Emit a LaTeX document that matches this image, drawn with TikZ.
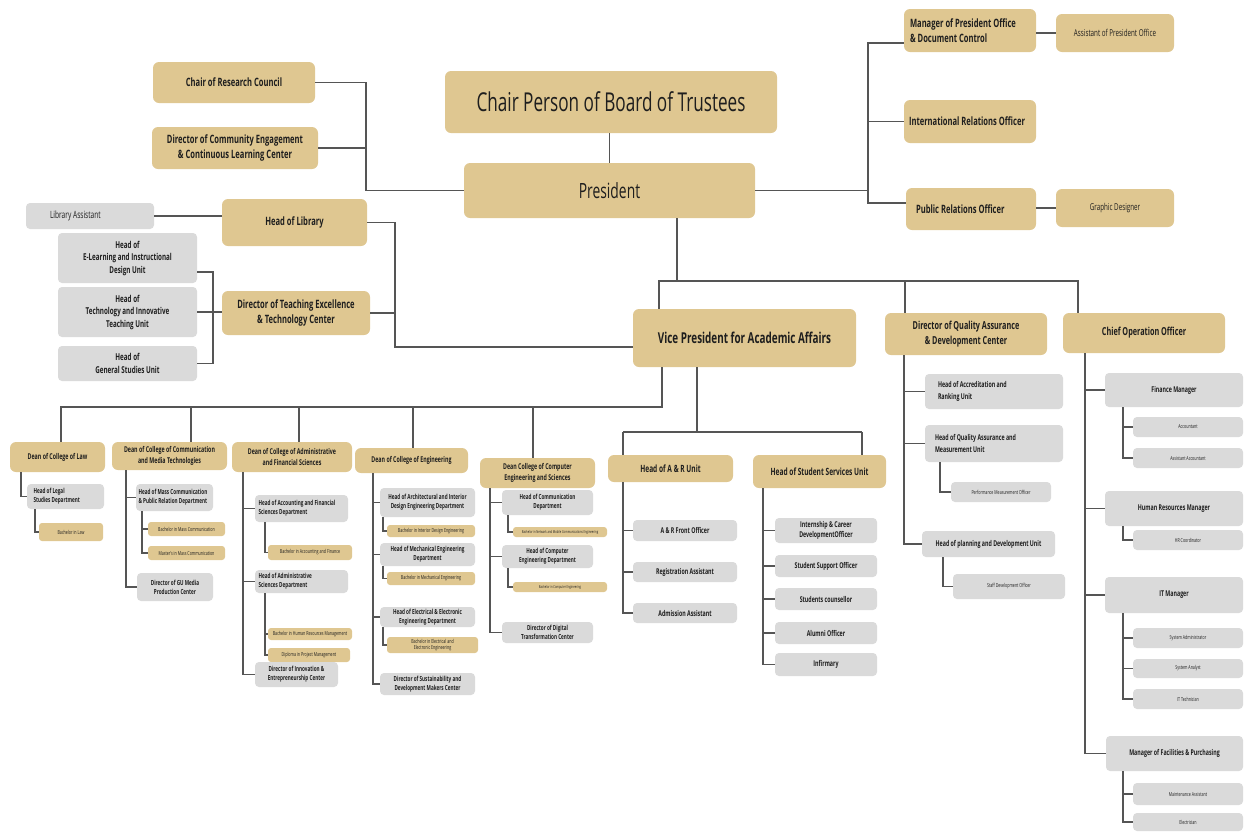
\documentclass[tikz,border=0pt]{standalone}
\usepackage{fontspec}
\setmainfont{Open Sans}[FakeStretch=0.66]
\usetikzlibrary{calc}
\definecolor{tanc}{RGB}{223,199,145}
\definecolor{grayc}{RGB}{218,218,218}
\definecolor{linec}{RGB}{85,85,85}
\definecolor{txtc}{RGB}{30,30,30}
\newcommand\fChair{\fontsize{26}{30}\selectfont}
\newcommand\fPres{\fontsize{21}{24}\selectfont}
\newcommand\fVP{\bfseries\fontsize{15}{18}\selectfont}
\newcommand\fB{\bfseries\fontsize{11.5}{15}\selectfont}
\newcommand\fBs{\fontsize{9.5}{12}\selectfont}
\newcommand\fLA{\fontsize{10}{12}\selectfont}
\newcommand\fLG{\bfseries\fontsize{9.5}{12.5}\selectfont}
\newcommand\fD{\bfseries\fontsize{8}{11}\selectfont}
\newcommand\fG{\bfseries\fontsize{7}{9}\selectfont}
\newcommand\fS{\fontsize{5.5}{6.5}\selectfont}
\newcommand\fT{\fontsize{4}{5}\selectfont}
\newcommand\fE{\bfseries\fontsize{10}{12}\selectfont}
\newcommand\fF{\bfseries\fontsize{8}{10}\selectfont}
\newcommand\fH{\bfseries\fontsize{8}{12}\selectfont}
\newcommand\fQ{\bfseries\fontsize{11}{14.5}\selectfont}
\newcommand{\obox}[7]{\node[#2, minimum width={#5-#3}, minimum height={#6-#4}] (#1) at ({(#3+#5)/2},{(#4+#6)/2}) {#7};}
\newcommand{\okid}[3]{\draw[ln] (#1.south -| #2) |- (#3.west);}
\tikzset{
  tan/.style={fill=tanc, rounded corners=6pt, inner sep=1pt, align=center, text=txtc},
  tans/.style={fill=tanc, rounded corners=3pt, inner sep=1pt, align=center, text=txtc, font=\fS},
  gry/.style={fill=grayc, rounded corners=4pt, inner sep=1pt, align=center, text=txtc},
  tanB/.style={tan, font=\fB},
  dean/.style={tan, font=\fD},
  lvl2/.style={gry, font=\fG},
  unitg/.style={gry, font=\fF},
  qag/.style={gry, font=\fH},
  smallg/.style={gry, font=\fS},
  ln/.style={draw=linec, line width=1.6pt},
  lft/.style={text width=#1, align=flush left},
}
\begin{document}
\begin{tikzpicture}[x=1pt,y=-1pt]
\useasboundingbox (0,0) rectangle (1244,831);
% ---------- top ----------
\obox{chair}{tan, font=\fChair}{445}{71}{777}{133}{Chair Person of Board of Trustees}
\obox{pres}{tan, font=\fPres}{464}{163}{755}{218}{President}
\obox{rc}{tanB}{153}{62}{315}{103}{Chair of Research Council}
\obox{dce}{tanB}{152}{127}{318}{169}{Director of Community Engagement\\\& Continuous Learning Center}
\obox{mpo}{tanB, lft=120}{904}{9}{1036}{52}{Manager of President Office\\\& Document Control}
\obox{apo}{tan, font=\fBs}{1056}{14}{1174}{52}{Assistant of President Office}
\obox{iro}{tanB, lft=122}{904}{100}{1036}{143}{International Relations Officer}
\obox{pro}{tanB, lft=110}{906}{188}{1036}{230}{Public Relations Officer}
\obox{gd}{tan, font=\fBs}{1056}{189}{1174}{227}{Graphic Designer}
% ---------- left ----------
\obox{la}{gry, font=\fLA, lft=80}{26}{203}{154}{229}{Library Assistant}
\obox{lib}{tanB}{222}{199}{367}{246}{Head of Library}
\obox{dte}{tanB}{222}{291}{370}{335}{Director of Teaching Excellence\\\& Technology Center}
\obox{el}{gry, font=\fLG}{58}{233}{197}{283}{Head of\\E-Learning and Instructional\\Design Unit}
\obox{ti}{gry, font=\fLG}{58}{287}{197}{337}{Head of\\Technology and Innovative\\Teaching Unit}
\obox{gs}{gry, font=\fLG}{58}{346}{197}{381}{Head of\\General Studies Unit}
% ---------- middle ----------
\obox{vp}{tan, font=\fVP}{633}{309}{856}{367}{Vice President for Academic Affairs}
\obox{qa}{tan, font=\fQ}{885}{313}{1047}{355}{Director of Quality Assurance\\\& Development Center}
\obox{coo}{tan, font=\fQ}{1063}{313}{1225}{353}{Chief Operation Officer}
% ---------- colleges ----------
\obox{law}{dean}{10}{442}{105}{472}{Dean of College of Law}
\obox{legal}{lvl2, lft=64}{27}{484}{104}{509}{Head of Legal\\Studies Department}
\obox{bl}{tans}{39}{523}{103}{541}{Bachelor in Law}
\obox{comm}{dean}{112}{442}{227}{470}{Dean of College of Communication\\and Media Technologies}
\obox{mc}{lvl2, lft=72}{136}{484}{213}{511}{Head of Mass Communication\\\& Public Relation Department}
\obox{bmc}{tans}{148}{522}{225}{536}{Bachelor in Mass Communication}
\obox{mmc}{tans}{148}{546}{225}{560}{Master's in Mass Communication}
\obox{gum}{lvl2}{137}{573}{213}{601}{Director of GU Media\\Production Center}
\obox{adm}{dean}{232}{442}{352}{472}{Dean of College of Administrative\\and Financial Sciences}
\obox{acc}{lvl2, lft=86}{255}{495}{348}{522}{Head of Accounting and Financial\\Sciences Department}
\obox{bacc}{tans}{268}{545}{352}{560}{Bachelor in Accounting and Finance}
\obox{ads}{lvl2, lft=86}{255}{570}{348}{593}{Head of Administrative\\Sciences Department}
\obox{bhr}{tans}{268}{628}{352}{640}{Bachelor in Human Resources Management}
\obox{dpm}{tans}{268}{648}{350}{662}{Diploma in Project Management}
\obox{inn}{lvl2}{255}{662}{338}{687}{Director of Innovation \&\\Entrepreneurship Center}
\obox{eng}{dean}{355}{448}{468}{473}{Dean of College of Engineering}
\obox{arch}{lvl2}{380}{488}{475}{517}{Head of Architectural and Interior\\Design Engineering Department}
\obox{bid}{tans}{387}{525}{475}{537}{Bachelor in Interior Design Engineering}
\obox{mech}{lvl2}{380}{543}{475}{566}{Head of Mechanical Engineering\\Department}
\obox{bme}{tans}{387}{572}{475}{585}{Bachelor in Mechanical Engineering}
\obox{elec}{lvl2}{380}{607}{475}{627}{Head of Electrical \& Electronic\\Engineering Department}
\obox{bee}{tans}{387}{637}{478}{653}{Bachelor in Electrical and\\Electronic Engineering}
\obox{sus}{lvl2}{380}{673}{475}{695}{Director of Sustainability and\\Development Makers Center}
\obox{comp}{dean}{480}{458}{595}{488}{Dean College of Computer\\Engineering and Sciences}
\obox{hcd}{lvl2}{502}{490}{593}{515}{Head of Communication\\Department}
\obox{bnc}{tans, font=\fT}{513}{527}{607}{537}{Bachelor in Network and Mobile Communications Engineering}
\obox{hce}{lvl2}{502}{545}{593}{568}{Head of Computer\\Engineering Department}
\obox{bce}{tans, font=\fT}{513}{582}{607}{592}{Bachelor in Computer Engineering}
\obox{dtc}{lvl2}{502}{622}{593}{643}{Director of Digital\\Transformation Center}
% ---------- units ----------
\obox{ar}{tan, font=\fE}{608}{455}{733}{482}{Head of A \& R Unit}
\obox{arf}{unitg}{633}{520}{737}{541}{A \& R Front Officer}
\obox{ra}{unitg}{633}{562}{737}{582}{Registration Assistant}
\obox{aa}{unitg}{633}{603}{737}{623}{Admission Assistant}
\obox{ss}{tan, font=\fE}{753}{455}{886}{488}{Head of Student Services Unit}
\obox{icd}{unitg}{775}{518}{877}{543}{Internship \& Career\\DevelopmentOfficer}
\obox{sso}{unitg}{775}{555}{877}{577}{Student Support Officer}
\obox{sc}{unitg}{775}{588}{877}{610}{Students counsellor}
\obox{ao}{unitg}{775}{622}{877}{644}{Alumni Officer}
\obox{inf}{unitg}{775}{653}{877}{676}{Infirmary}
% ---------- QA ----------
\obox{acr}{qag, lft=112}{925}{374}{1063}{409}{Head of Accreditation and\\Ranking Unit}
\obox{qam}{qag, lft=118}{925}{425}{1063}{462}{Head of Quality Assurance and\\Measurement Unit}
\obox{pmo}{smallg}{951}{482}{1051}{502}{Performance Measurement Officer}
\obox{hpd}{qag}{922}{531}{1055}{557}{Head of planning and Development Unit}
\obox{sdo}{smallg}{953}{574}{1065}{599}{Staff Development Officer}
% ---------- COO ----------
\obox{fm}{qag}{1105}{373}{1243}{407}{Finance Manager}
\obox{acct}{smallg}{1133}{417}{1243}{437}{Accountant}
\obox{aac}{smallg}{1133}{448}{1243}{468}{Assistant Accountant}
\obox{hrm}{qag}{1105}{491}{1243}{526}{Human Resources Manager}
\obox{hrc}{smallg}{1133}{530}{1243}{550}{HR Coordinator}
\obox{itm}{qag}{1105}{577}{1243}{613}{IT Manager}
\obox{sa}{smallg}{1133}{628}{1243}{648}{System Administrator}
\obox{san}{smallg}{1133}{659}{1243}{678}{System Analyst}
\obox{itt}{smallg}{1133}{689}{1243}{709}{IT Technician}
\obox{mfp}{qag}{1106}{736}{1243}{771}{Manager of Facilities \& Purchasing}
\obox{ma}{smallg}{1133}{783}{1243}{805}{Maintenance Assistant}
\obox{elc}{smallg}{1133}{813}{1243}{831}{Electrician}
% ---------- coordinates ----------
\coordinate (xL) at (366,0);
\coordinate (xR) at (868,0);
\coordinate (xVL) at (395,0);
\coordinate (xT) at (213,0);
\coordinate (pd) at (677,281);
\coordinate (vx) at (659,281);
\coordinate (qx) at (905,281);
\coordinate (cx) at (1078,281);
\coordinate (v1) at (662,407);
\coordinate (v2) at (697,432);
\coordinate (dLaw) at (61,407);
\coordinate (dComm) at (191,407);
\coordinate (dAdm) at (299,407);
\coordinate (dEng) at (413,407);
\coordinate (dComp) at (533,407);
\coordinate (dAR) at (623,432);
\coordinate (dSS) at (862,432);
\coordinate (sLaw) at (21,0);
\coordinate (sLegal) at (35,0);
\coordinate (sComm) at (126,0);
\coordinate (sMc) at (142,0);
\coordinate (sAdm) at (243,0);
\coordinate (sAcc) at (265,0);
\coordinate (sEng) at (373,0);
\coordinate (sEsub) at (383,0);
\coordinate (sComp) at (490,0);
\coordinate (sCsub) at (508,0);
\coordinate (sAR) at (623,0);
\coordinate (sSS) at (763,0);
\coordinate (sQA) at (904,0);
\coordinate (sQam) at (940,0);
\coordinate (sHpd) at (943,0);
\coordinate (sCoo) at (1085,0);
\coordinate (sCsub2) at (1123,0);
% ---------- connectors top ----------
\draw[ln] (chair.south -| pres.north) -- (pres.north);
\draw[ln] (rc.east) -| (xL |- pres.west) -- (pres.west);
\draw[ln] (dce.east) -- (dce.east -| xL);
\draw[ln] (pres.east) -- (pres.east -| xR);
\draw[ln] ($(mpo.south west)+(0,-9)$) -| ($(xR |- pro.west)+(0,-6)$) -- ($(pro.west)+(0,-6)$);
\draw[ln] (iro.west) -- (iro.west -| xR);
\draw[ln] (apo.west) -- (apo.west -| mpo.east);
\draw[ln] (gd.west) -- (gd.west -| pro.east);
% ---------- connectors left ----------
\draw[ln] (la.east) -- (la.east -| lib.west);
\draw[ln] ($(vp.west)+(0,9)$) -| (xVL |- lib.east) -- (lib.east);
\draw[ln] (dte.east) -- (dte.east -| xVL);
\draw[ln] ($(el.east)+(0,14)$) -| (xT |- gs.east) -- (gs.east);
\draw[ln] (ti.east) -- (ti.east -| dte.west);
% ---------- president down ----------
\draw[ln] (pres.south -| pd) -- (pd);
\draw[ln] (vp.north -| vx) -- (vx) -- (cx) -- (coo.north -| cx);
\draw[ln] (qx) -- (qa.north -| qx);
% ---------- VP down ----------
\draw[ln] (vp.south -| v1) -- (v1) -- (dLaw) -- (law.north -| dLaw);
\draw[ln] (dComm) -- (comm.north -| dComm);
\draw[ln] (dAdm) -- (adm.north -| dAdm);
\draw[ln] (dEng) -- (eng.north -| dEng);
\draw[ln] (dComp) -- (comp.north -| dComp);
\draw[ln] (vp.south -| v2) -- (v2);
\draw[ln] (dAR) -- (dSS);
\draw[ln] (dAR) -- (ar.north -| dAR);
\draw[ln] (dSS) -- (ss.north -| dSS);
% ---------- colleges ----------
\okid{law}{sLaw}{legal}
\okid{legal}{sLegal}{bl}
\okid{comm}{sComm}{mc}
\okid{comm}{sComm}{gum}
\okid{mc}{sMc}{bmc}
\okid{mc}{sMc}{mmc}
\okid{adm}{sAdm}{acc}
\okid{adm}{sAdm}{ads}
\okid{adm}{sAdm}{inn}
\okid{acc}{sAcc}{bacc}
\okid{ads}{sAcc}{bhr}
\okid{ads}{sAcc}{dpm}
\okid{eng}{sEng}{arch}
\okid{eng}{sEng}{mech}
\okid{eng}{sEng}{elec}
\okid{eng}{sEng}{sus}
\okid{arch}{sEsub}{bid}
\okid{mech}{sEsub}{bme}
\okid{elec}{sEsub}{bee}
\okid{comp}{sComp}{hcd}
\okid{comp}{sComp}{hce}
\okid{comp}{sComp}{dtc}
\okid{hcd}{sCsub}{bnc}
\okid{hce}{sCsub}{bce}
% ---------- units ----------
\okid{ar}{sAR}{arf}
\okid{ar}{sAR}{ra}
\okid{ar}{sAR}{aa}
\okid{ss}{sSS}{icd}
\okid{ss}{sSS}{sso}
\okid{ss}{sSS}{sc}
\okid{ss}{sSS}{ao}
\okid{ss}{sSS}{inf}
\okid{qa}{sQA}{acr}
\okid{qa}{sQA}{qam}
\okid{qa}{sQA}{hpd}
\okid{qam}{sQam}{pmo}
\okid{hpd}{sHpd}{sdo}
\okid{coo}{sCoo}{fm}
\okid{coo}{sCoo}{hrm}
\okid{coo}{sCoo}{itm}
\okid{coo}{sCoo}{mfp}
\okid{fm}{sCsub2}{acct}
\okid{fm}{sCsub2}{aac}
\okid{hrm}{sCsub2}{hrc}
\okid{itm}{sCsub2}{sa}
\okid{itm}{sCsub2}{san}
\okid{itm}{sCsub2}{itt}
\okid{mfp}{sCsub2}{ma}
\okid{mfp}{sCsub2}{elc}
\end{tikzpicture}
\end{document}
